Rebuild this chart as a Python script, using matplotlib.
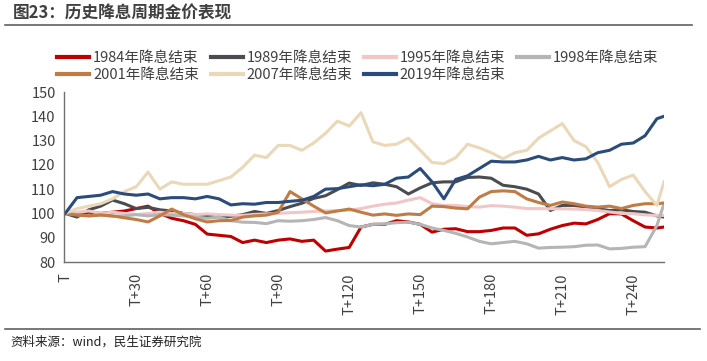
import matplotlib
matplotlib.use("Agg")
import matplotlib.pyplot as plt
from matplotlib.lines import Line2D

plt.rcParams['font.family'] = ['Noto Sans CJK SC', 'DejaVu Sans']

# trading days after the end of each easing cycle
days = list(range(0, 251, 5)) + [253]

gold_1984 = [100, 99.8, 100.5, 100, 100.5, 101, 102, 103, 100, 98, 97, 95.5, 91.5, 91, 90.5, 88,
             89, 88, 89, 89.5, 88.5, 89, 84.5, 85.3, 86, 94.4, 95.5, 95.5, 97, 96.5, 95.5, 92.3,
             93.5, 93.7, 92.5, 92.5, 93, 94, 94, 91, 91.6, 93.5, 95, 96, 95.7, 97.5, 99.9, 99.8,
             97, 94.4, 94, 94.4]
gold_1989 = [100, 98.5, 101.5, 103, 105.5, 104, 102, 102.5, 101.5, 101, 100, 99.5, 98.8, 98.6, 98.8,
             99.5, 100.8, 100, 101.2, 102.8, 104.2, 106.2, 107.3, 109.8, 112.5, 111.5, 112.6, 112,
             111, 108, 110.5, 112.6, 113, 113, 114.8, 115, 114.5, 111.6, 111, 110, 108, 101.2,
             103.3, 103.3, 102.6, 101.9, 101.2, 101.5, 100.8, 100.5, 99, 98.5]
gold_1995 = [100, 100.5, 101, 100, 100.5, 100, 99.5, 100, 100.5, 100, 100, 99.5, 99.8, 99.5, 99.3,
             99.2, 99.6, 99.8, 100, 100.3, 100.5, 100.8, 101, 101.2, 101.3, 102, 103, 103.8, 104.3,
             105.5, 106.5, 104, 103.3, 103.3, 102.8, 102.6, 103.2, 103, 102.6, 102, 102, 101.9,
             101.9, 101.8, 101.6, 101.2, 100.6, 100, 99.9, 99.4, 99.2, 99.2]
gold_1998 = [100, 99.5, 99, 99.5, 98.8, 99, 99.5, 99, 99.5, 99.3, 99, 98.5, 98, 98.5, 97, 96.4,
             96.3, 95.8, 97, 96.8, 97, 97.5, 98.3, 97, 95, 94.4, 95.5, 95.7, 96.2, 96.4, 95.5, 94,
             93, 91.8, 90.3, 88.5, 87.5, 88, 88.5, 87.5, 85.7, 86, 86.1, 86.3, 86.9, 87, 85.4,
             85.6, 86.1, 86.3, 95, 104]
gold_2001 = [100, 99.3, 99, 99.3, 99, 98.2, 97.5, 96.5, 99, 101.8, 99.5, 97.8, 96.5, 97, 97.1, 98.5,
             99, 99.3, 100.5, 109, 106, 103, 100.2, 101, 101.8, 100.5, 99.3, 99.8, 99.2, 99.8,
             99.5, 103, 102.8, 102.2, 101.9, 106.7, 109, 109.3, 109, 106, 104.5, 103.3, 104.7,
             104, 103, 102.6, 103, 102, 103.3, 104, 104, 104.3]
gold_2007 = [100, 102, 103, 104, 106, 109, 111, 117, 110, 113, 112, 112, 112, 113.5, 115, 119, 124,
             123, 128, 128, 126, 129, 133, 138, 136, 141.5, 129.5, 128, 128.5, 131, 126, 121,
             120.5, 123, 128.5, 127, 125, 122.5, 125, 126, 131, 134, 137, 130, 127.5, 121, 111,
             114, 115.8, 109, 103.3, 113]
gold_2019 = [100, 106.5, 107, 107.5, 109, 108, 107.5, 108, 106, 106.5, 106.5, 106, 107, 106, 103.5,
             104, 103.8, 104.5, 104.5, 105, 105.4, 107, 110, 110.2, 111, 111.8, 111.4, 112, 114.5,
             115, 118.5, 113, 106, 114, 115.5, 118.5, 121.5, 121.2, 121.2, 122, 123.5, 122, 123,
             122, 122.5, 125, 126, 128.5, 129, 132, 139, 140]

labels = ['1984年降息结束', '1989年降息结束', '1995年降息结束', '1998年降息结束',
          '2001年降息结束', '2007年降息结束', '2019年降息结束']
series = [gold_1984, gold_1989, gold_1995, gold_1998, gold_2001, gold_2007, gold_2019]
colors = ['#C00000', '#4A4C50', '#F2C6C6', '#B5B5B5', '#C17B45', '#EBD8B8', '#2A4B7C']

tick_days = [0, 30, 60, 90, 120, 150, 180, 210, 240]
tick_labels = ['T'] + ['T+%d' % d for d in tick_days[1:]]

fig = plt.figure(figsize=(7.07, 3.61), dpi=100)
ax = fig.add_axes([64 / 707, 1 - 262 / 361, 600 / 707, 170 / 361])

for vals, c, lab in zip(series, colors, labels):
    ax.plot(days, vals, color=c, lw=2.2, label=lab, solid_joinstyle='round')

ax.set_xlim(-0.5, 253)
ax.set_ylim(80, 150)
ax.set_yticks(range(80, 151, 10))
ax.set_xticks(tick_days)
ax.set_xticklabels(tick_labels, rotation=90, fontsize=10.5, color='#404040')
ax.tick_params(axis='y', labelsize=10.5, colors='#404040', length=0, pad=6)
ax.tick_params(axis='x', length=0, pad=8)
for s in ['top', 'right']:
    ax.spines[s].set_visible(False)
for s in ['left', 'bottom']:
    ax.spines[s].set_color('#707070')
    ax.spines[s].set_linewidth(1.0)

# legend: row-wise order in 4 columns
order = [0, 4, 1, 5, 2, 6, 3]
handles = [Line2D([], [], color=colors[i], lw=3) for i in order]
fig.legend(handles, [labels[i] for i in order], ncol=4, frameon=False,
           loc='upper left', bbox_to_anchor=(50 / 707, 1 - 44 / 361),
           fontsize=10.5, handlelength=2.2, handletextpad=0.25, columnspacing=0.8,
           labelspacing=0.2, borderpad=0, labelcolor='#404040')

# title and header line
fig.text(13 / 707, 1 - 13 / 361, '图23：历史降息周期金价表现', fontsize=12, fontweight='bold',
         color='#404040', va='center', ha='left')
fig.add_artist(Line2D([5 / 707, 692 / 707], [1 - 25 / 361, 1 - 25 / 361],
                      color='#606060', lw=1.2))

# footer
fig.add_artist(Line2D([5 / 707, 700 / 707], [1 - 329 / 361, 1 - 329 / 361],
                      color='#606060', lw=1.2))
fig.text(10 / 707, 1 - 342 / 361, '资料来源：wind，民生证券研究院', fontsize=9,
         color='#202020', va='center', ha='left')

fig.savefig('out.png', dpi=100)
